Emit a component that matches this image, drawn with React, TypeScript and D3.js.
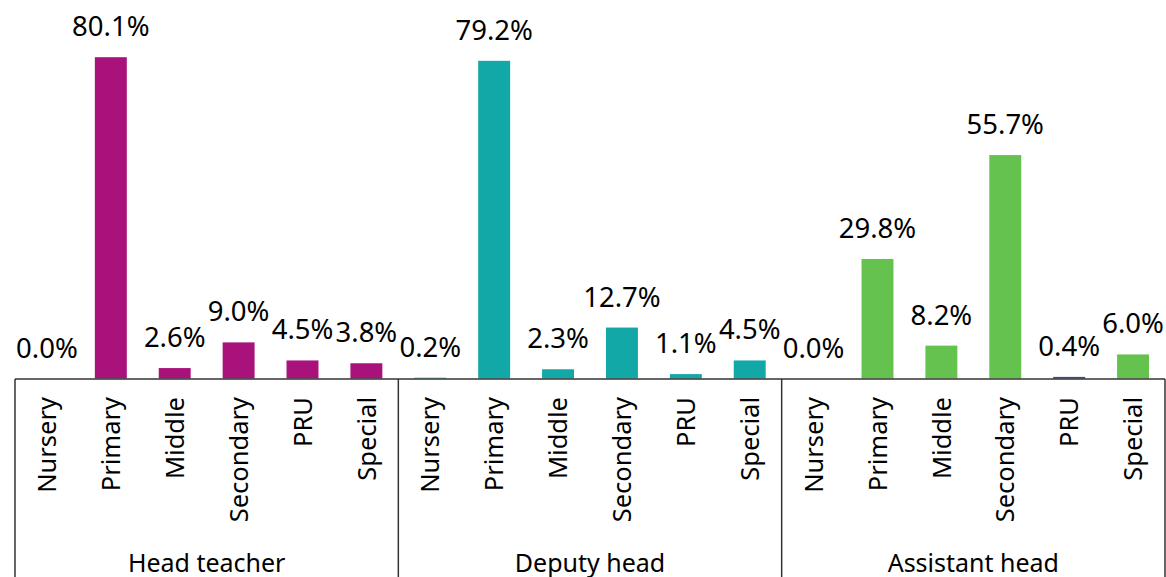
import React from "react";
import * as d3 from "d3";

const groups = ["Head teacher", "Deputy head", "Assistant head"];
const categories = ["Nursery", "Primary", "Middle", "Secondary", "PRU", "Special"];
const headTeacher = [0.0, 80.1, 2.6, 9.0, 4.5, 3.8];
const deputyHead = [0.2, 79.2, 2.3, 12.7, 1.1, 4.5];
const assistantHead = [0.0, 29.8, 8.2, 55.7, 0.4, 6.0];
const groupColors = ["#A8127A", "#13A8A8", "#66C24F"];
// Assistant head PRU bar drawn in a distinct dark blue
const pointOverride: { group: number; cat: number; color: string }[] = [
  { group: 2, cat: 4, color: "#2B4C9B" },
];

const W = 1166;
const H = 577;
const FONT = "'Noto Sans', 'Open Sans', sans-serif";

export default function App() {
  const seriesValues = [headTeacher, deputyHead, assistantHead];
  const left = 15;
  const right = 1165;
  const axisY = 379;
  const baseY = 378.5;

  const xGroup = d3.scaleBand<string>().domain(groups).range([left, right]).paddingInner(0).paddingOuter(0);
  const xCat = d3
    .scaleBand<string>()
    .domain(categories)
    .range([0, xGroup.bandwidth()])
    .paddingInner(0.5)
    .paddingOuter(0.25);
  const y = d3.scaleLinear().domain([0, 90]).range([baseY, 17.5]);

  const boundaries = groups.map((g) => xGroup(g)!).concat([right]);

  const fmt = d3.format(".1f");

  return (
    <div style={{ position: "fixed", left: 0, top: 0, width: W, height: H, background: "#fff" }}>
      <svg width={W} height={H} style={{ display: "block" }}>
        <rect x={0} y={0} width={W} height={H} fill="#fff" />
        {groups.map((g, gi) => {
          const gx = xGroup(g)!;
          return (
            <g key={g}>
              {categories.map((c, ci) => {
                const v = seriesValues[gi][ci];
                const ov = pointOverride.find((p) => p.group === gi && p.cat === ci);
                const bx = gx + xCat(c)!;
                const cx = bx + xCat.bandwidth() / 2;
                return (
                  <g key={c}>
                    <rect
                      x={bx}
                      y={y(v)}
                      width={xCat.bandwidth()}
                      height={Math.max(0, y(0) - y(v))}
                      fill={ov ? ov.color : groupColors[gi]}
                    />
                    <text
                      x={cx}
                      y={y(v) - 21}
                      textAnchor="middle"
                      fontFamily={FONT}
                      fontSize={27.5}
                      fill="#000"
                    >
                      {fmt(v) + "%"}
                    </text>
                    <text
                      transform={`translate(${cx},397) rotate(-90)`}
                      textAnchor="end"
                      dy="0.36em"
                      fontFamily={FONT}
                      fontSize={25.5}
                      fill="#000"
                    >
                      {c}
                    </text>
                  </g>
                );
              })}
              <text
                x={gx + xGroup.bandwidth() / 2}
                y={571.5}
                textAnchor="middle"
                fontFamily={FONT}
                fontSize={25}
                fill="#000"
              >
                {g}
              </text>
            </g>
          );
        })}
        <line x1={left} x2={right} y1={axisY} y2={axisY} stroke="#333" strokeWidth={1.5} />
        {boundaries.map((bx, i) => (
          <line key={i} x1={bx} x2={bx} y1={axisY} y2={H} stroke="#333" strokeWidth={1.5} />
        ))}
      </svg>
    </div>
  );
}
